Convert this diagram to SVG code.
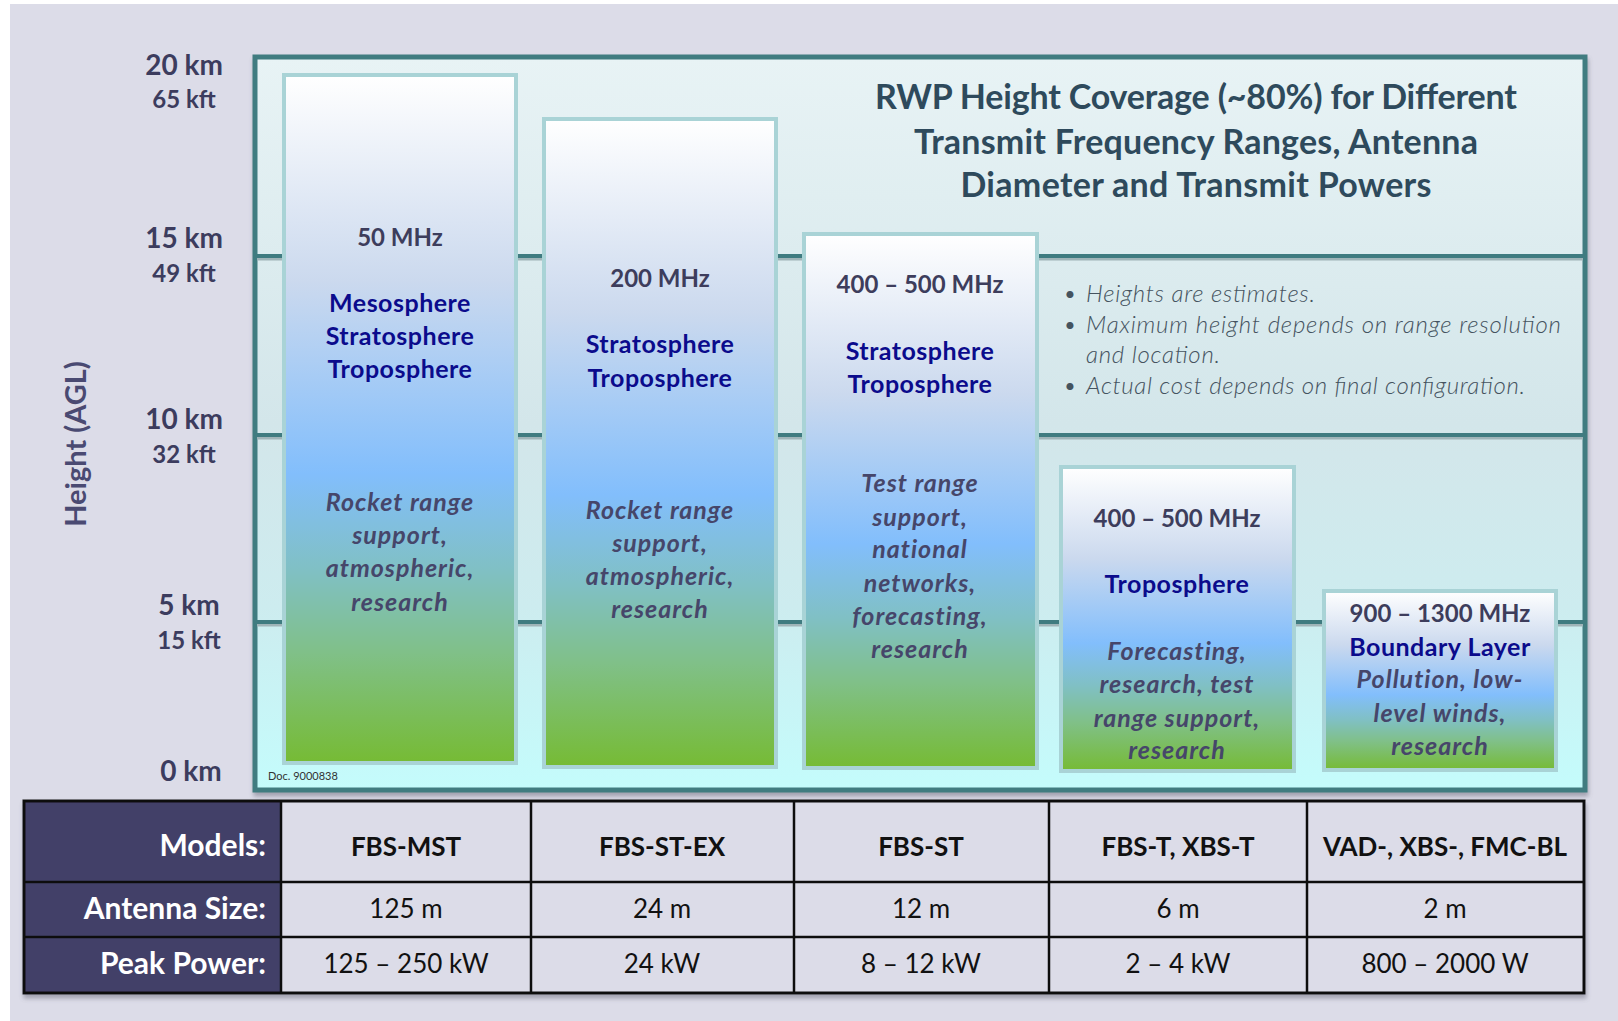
<svg xmlns="http://www.w3.org/2000/svg" width="1618" height="1021" viewBox="0 0 1618 1021">
<defs>
<linearGradient id="panelGrad" x1="0" y1="0" x2="0" y2="1">
<stop offset="0" stop-color="#e8f3f5"/>
<stop offset="0.5" stop-color="#d3e6ea"/>
<stop offset="0.75" stop-color="#cdecef"/>
<stop offset="1" stop-color="#c4fcfc"/>
</linearGradient>
<linearGradient id="barGrad" x1="0" y1="0" x2="0" y2="1">
<stop offset="0" stop-color="#ffffff"/>
<stop offset="0.3" stop-color="#cbd9ee"/>
<stop offset="0.58" stop-color="#82befc"/>
<stop offset="0.72" stop-color="#80c0c4"/>
<stop offset="0.84" stop-color="#80c088"/>
<stop offset="1" stop-color="#76bb34"/>
</linearGradient>
<filter id="shadow" x="-5%" y="-5%" width="110%" height="115%">
<feDropShadow dx="1" dy="4" stdDeviation="2" flood-color="#5a5a6a" flood-opacity="0.45"/>
</filter>
<style>
text { font-family: Lato, "Open Sans", "Liberation Sans", sans-serif; }
.km { font-size: 28px; font-weight: 700; fill: #3c3c5e; text-anchor: middle; }
.kft { font-size: 24px; font-weight: 700; fill: #3c3c5e; text-anchor: middle; }
.axis { font-size: 29px; font-weight: 700; fill: #4a4a72; text-anchor: middle; }
.freq { font-size: 24px; font-weight: 700; fill: #3d3d5c; text-anchor: middle; }
.layer { font-size: 25px; font-weight: 700; fill: #0b0b8c; text-anchor: middle; letter-spacing: 0.5px; }
.use { font-size: 25px; font-weight: 700; font-style: italic; fill: #46466a; text-anchor: middle; letter-spacing: 1px; }
.title { font-size: 34px; font-weight: 700; fill: #2e4a5c; text-anchor: middle; }
.note { font-size: 24px; font-style: italic; font-weight: 300; fill: #45535f; }
.bar { fill: url(#barGrad); stroke: #a9d3d6; stroke-width: 4; }
.grid { stroke: #3f7b80; stroke-width: 4; }
.gridsh { stroke: #9fb4b8; stroke-width: 3; }
.hdr { font-size: 30px; font-weight: 700; fill: #ffffff; text-anchor: end; }
.cellb { font-size: 26px; font-weight: 700; fill: #111111; text-anchor: middle; }
.cell { font-size: 26px; font-weight: 400; fill: #111111; text-anchor: middle; }
.tline { stroke: #111111; stroke-width: 2.5; }
</style>
</defs>

<rect x="0" y="0" width="1618" height="1021" fill="#ffffff"/>
<rect x="10" y="4" width="1608" height="1017" fill="#dcdce8"/>

<!-- Chart panel -->
<g id="panel">
<rect x="255" y="57" width="1330" height="733" fill="url(#panelGrad)" stroke="#417c80" stroke-width="5" filter="url(#shadow)"/>
<text class="title" x="1196" y="109" textLength="642">RWP Height Coverage (~80%) for Different</text>
<text class="title" x="1196" y="154" textLength="564">Transmit Frequency Ranges, Antenna</text>
<text class="title" x="1196" y="197" textLength="471">Diameter and Transmit Powers</text>
<text x="268" y="780" font-size="11" fill="#333333">Doc. 9000838</text>
</g>

<!-- Grid lines -->
<g id="gridlines">
<line class="gridsh" x1="257" y1="259" x2="1583" y2="259"/>
<line class="grid" x1="257" y1="256" x2="1583" y2="256"/>
<line class="gridsh" x1="257" y1="438" x2="1583" y2="438"/>
<line class="grid" x1="257" y1="435" x2="1583" y2="435"/>
<line class="gridsh" x1="257" y1="625" x2="1583" y2="625"/>
<line class="grid" x1="257" y1="622" x2="1583" y2="622"/>
</g>

<!-- Axis labels -->
<g id="axis">
<text class="km" x="184" y="75">20 km</text>
<text class="kft" x="184" y="108">65 kft</text>
<text class="km" x="184" y="248">15 km</text>
<text class="kft" x="184" y="282">49 kft</text>
<text class="km" x="184" y="429">10 km</text>
<text class="kft" x="184" y="463">32 kft</text>
<text class="km" x="189" y="615">5 km</text>
<text class="kft" x="189" y="649">15 kft</text>
<text class="km" x="191" y="781">0 km</text>
<text class="axis" transform="translate(86 444) rotate(-90)">Height (AGL)</text>
</g>

<!-- Bars -->
<g id="bar-50mhz">
<rect class="bar" x="284" y="75" width="232" height="688"/>
<text class="freq" x="400" y="246">50 MHz</text>
<text class="layer" x="400" y="312">Mesosphere</text>
<text class="layer" x="400" y="345">Stratosphere</text>
<text class="layer" x="400" y="378">Troposphere</text>
<text class="use" x="400" y="511">Rocket range</text>
<text class="use" x="400" y="544">support,</text>
<text class="use" x="400" y="577">atmospheric,</text>
<text class="use" x="400" y="611">research</text>
</g>

<g id="bar-200mhz">
<rect class="bar" x="544" y="119" width="232" height="648"/>
<text class="freq" x="660" y="287">200 MHz</text>
<text class="layer" x="660" y="353">Stratosphere</text>
<text class="layer" x="660" y="387">Troposphere</text>
<text class="use" x="660" y="519">Rocket range</text>
<text class="use" x="660" y="552">support,</text>
<text class="use" x="660" y="585">atmospheric,</text>
<text class="use" x="660" y="618">research</text>
</g>

<g id="bar-400mhz-st">
<rect class="bar" x="804" y="234" width="233" height="534"/>
<text class="freq" x="920" y="293">400 – 500 MHz</text>
<text class="layer" x="920" y="360">Stratosphere</text>
<text class="layer" x="920" y="393">Troposphere</text>
<text class="use" x="920" y="492">Test range</text>
<text class="use" x="920" y="526">support,</text>
<text class="use" x="920" y="558">national</text>
<text class="use" x="920" y="592">networks,</text>
<text class="use" x="920" y="625">forecasting,</text>
<text class="use" x="920" y="658">research</text>
</g>

<g id="bar-400mhz-t">
<rect class="bar" x="1061" y="467" width="233" height="304"/>
<text class="freq" x="1177" y="527">400 – 500 MHz</text>
<text class="layer" x="1177" y="593">Troposphere</text>
<text class="use" x="1177" y="660">Forecasting,</text>
<text class="use" x="1177" y="693">research, test</text>
<text class="use" x="1177" y="727">range support,</text>
<text class="use" x="1177" y="759">research</text>
</g>

<g id="bar-900mhz">
<rect class="bar" x="1324" y="591" width="232" height="179"/>
<text class="freq" x="1440" y="622">900 – 1300 MHz</text>
<text class="layer" x="1440" y="656">Boundary Layer</text>
<text class="use" x="1440" y="688">Pollution, low-</text>
<text class="use" x="1440" y="722">level winds,</text>
<text class="use" x="1440" y="755">research</text>
</g>

<!-- Notes -->
<g id="notes">
<text class="note" x="1063" y="302">•</text>
<text class="note" x="1086" y="302" textLength="229">Heights are estimates.</text>
<text class="note" x="1063" y="333">•</text>
<text class="note" x="1086" y="333" textLength="475">Maximum height depends on range resolution</text>
<text class="note" x="1086" y="363" textLength="134">and location.</text>
<text class="note" x="1063" y="394">•</text>
<text class="note" x="1086" y="394" textLength="439">Actual cost depends on final configuration.</text>
</g>

<!-- Table -->
<g id="table" filter="url(#shadow)">
<rect x="24" y="801" width="1560" height="192" fill="#dcdce8"/>
<rect x="24" y="801" width="257" height="192" fill="#434068"/>
<line class="tline" x1="24" y1="882" x2="1584" y2="882"/>
<line class="tline" x1="24" y1="937" x2="1584" y2="937"/>
<line class="tline" x1="281" y1="801" x2="281" y2="993"/>
<line class="tline" x1="531" y1="801" x2="531" y2="993"/>
<line class="tline" x1="794" y1="801" x2="794" y2="993"/>
<line class="tline" x1="1049" y1="801" x2="1049" y2="993"/>
<line class="tline" x1="1307" y1="801" x2="1307" y2="993"/>
<rect x="24" y="801" width="1560" height="192" fill="none" stroke="#111111" stroke-width="3"/>
</g>
<g id="table-text">
<text class="hdr" x="266" y="856">Models:</text>
<text class="hdr" x="266" y="919">Antenna Size:</text>
<text class="hdr" x="266" y="974">Peak Power:</text>
<text class="cellb" x="406" y="856">FBS-MST</text>
<text class="cellb" x="662" y="856">FBS-ST-EX</text>
<text class="cellb" x="921" y="856">FBS-ST</text>
<text class="cellb" x="1178" y="856">FBS-T, XBS-T</text>
<text class="cellb" x="1445" y="856">VAD-, XBS-, FMC-BL</text>
<text class="cell" x="406" y="918">125 m</text>
<text class="cell" x="662" y="918">24 m</text>
<text class="cell" x="921" y="918">12 m</text>
<text class="cell" x="1178" y="918">6 m</text>
<text class="cell" x="1445" y="918">2 m</text>
<text class="cell" x="406" y="973">125 – 250 kW</text>
<text class="cell" x="662" y="973">24 kW</text>
<text class="cell" x="921" y="973">8 – 12 kW</text>
<text class="cell" x="1178" y="973">2 – 4 kW</text>
<text class="cell" x="1445" y="973">800 – 2000 W</text>
</g>
</svg>
